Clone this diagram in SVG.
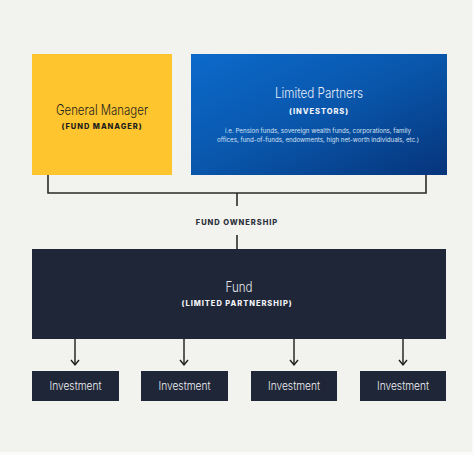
<svg xmlns="http://www.w3.org/2000/svg" width="474" height="455" viewBox="0 0 474 455">
  <defs>
    <linearGradient id="blueGrad" x1="0" y1="0" x2="1" y2="1">
      <stop offset="0" stop-color="#0c6acb"/>
      <stop offset="0.5" stop-color="#0956ab"/>
      <stop offset="1" stop-color="#06347a"/>
    </linearGradient>
    <marker id="chev" viewBox="0 0 10 10" refX="8" refY="5" markerWidth="10" markerHeight="10" markerUnits="userSpaceOnUse" orient="auto">
      <path d="M3,1 L8,5 L3,9" fill="none" stroke="#1c1c1c" stroke-width="1.4"/>
    </marker>
    <style>
      .line { fill: none; stroke: #2a2a2a; stroke-width: 1.6; }
      .arrow { fill: none; stroke: #1c1c1c; stroke-width: 1.4; marker-end: url(#chev); }
      .title { font-family: "Inter", "Liberation Sans", sans-serif; font-weight: 300; text-anchor: middle; }
      .sub { font-family: "Inter", "Liberation Sans", sans-serif; font-weight: 800; font-size: 7.5px; letter-spacing: 0.95px; text-anchor: middle; }
      .small { font-family: "Inter", "Liberation Sans", sans-serif; font-size: 6px; fill: #d6e2f3; text-anchor: middle; }
      .inv { font-family: "Inter", "Liberation Sans", sans-serif; font-weight: 300; font-size: 11px; fill: #eef0f4; text-anchor: middle; }
      .navy { fill: #1f2637; }
    </style>
  </defs>
  <rect x="0" y="0" width="474" height="455" fill="#f2f2ee"/>
  <rect x="472" y="0" width="2" height="455" fill="#fbfbf9"/>
  <rect x="0" y="452" width="474" height="3" fill="#fbfbf9"/>

  <g id="connectors">
    <path class="line" d="M48,175 V193 H426 V175"/>
    <path class="line" d="M237,193 V206"/>
    <path class="line" d="M237,235 V249"/>
    <line class="arrow" x1="75" y1="339" x2="75" y2="365"/>
    <line class="arrow" x1="184" y1="339" x2="184" y2="365"/>
    <line class="arrow" x1="294" y1="339" x2="294" y2="365"/>
    <line class="arrow" x1="403" y1="339" x2="403" y2="365"/>
  </g>

  <g id="general-manager">
    <rect x="32" y="54" width="140" height="121" fill="#fec52e"/>
    <text class="title" x="102" y="115" font-size="14" fill="#1c1c1c" textLength="92" lengthAdjust="spacingAndGlyphs">General Manager</text>
    <text class="sub" x="102" y="129" fill="#1c1c1c">(FUND MANAGER)</text>
  </g>

  <g id="limited-partners">
    <rect x="191" y="54" width="256" height="121" fill="url(#blueGrad)"/>
    <text class="title" x="319" y="98" font-size="14" fill="#e8eef8" textLength="88" lengthAdjust="spacingAndGlyphs">Limited Partners</text>
    <text class="sub" x="319" y="113.5" fill="#f2f5fa">(INVESTORS)</text>
    <text class="small" x="318" y="133" textLength="186" lengthAdjust="spacingAndGlyphs">i.e. Pension funds, sovereign wealth funds, corporations, family</text>
    <text class="small" x="318" y="142" textLength="202" lengthAdjust="spacingAndGlyphs">offices, fund-of-funds, endowments, high net-worth individuals, etc.)</text>
  </g>

  <g id="fund-ownership">
    <text class="sub" x="237" y="224.5" fill="#2a2f3a">FUND OWNERSHIP</text>
  </g>

  <g id="fund">
    <rect class="navy" x="32" y="249" width="414" height="90"/>
    <text class="title" x="239" y="292" font-size="14" fill="#e6e9ef" textLength="27" lengthAdjust="spacingAndGlyphs">Fund</text>
    <text class="sub" x="237" y="306" fill="#f2f3f6">(LIMITED PARTNERSHIP)</text>
  </g>

  <g id="investment-1">
    <rect class="navy" x="32" y="371" width="87" height="30"/>
    <text class="inv" x="75.5" y="390" textLength="52" lengthAdjust="spacingAndGlyphs">Investment</text>
  </g>
  <g id="investment-2">
    <rect class="navy" x="141" y="371" width="87" height="30"/>
    <text class="inv" x="184.5" y="390" textLength="52" lengthAdjust="spacingAndGlyphs">Investment</text>
  </g>
  <g id="investment-3">
    <rect class="navy" x="251" y="371" width="86" height="30"/>
    <text class="inv" x="294" y="390" textLength="52" lengthAdjust="spacingAndGlyphs">Investment</text>
  </g>
  <g id="investment-4">
    <rect class="navy" x="360" y="371" width="86" height="30"/>
    <text class="inv" x="403" y="390" textLength="52" lengthAdjust="spacingAndGlyphs">Investment</text>
  </g>
</svg>
